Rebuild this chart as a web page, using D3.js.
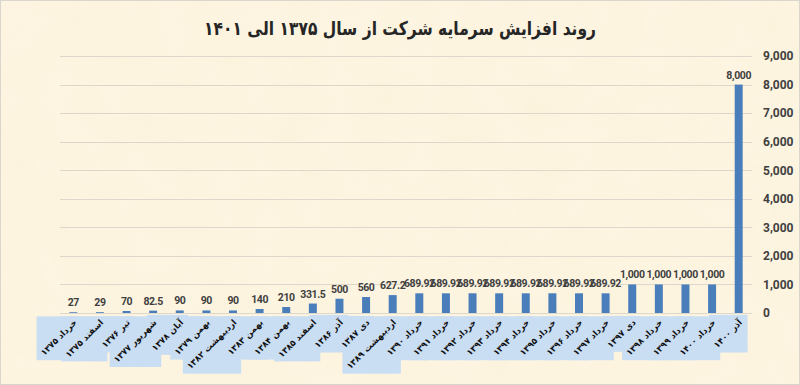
<!DOCTYPE html>
<html>
<head>
<meta charset="utf-8">
<script src="https://cdn.jsdelivr.net/npm/d3@7"></script>
<style>
  body { margin: 0; background: #fff; }
  svg { display: block; }
</style>
</head>
<body>
<div id="chart"></div>
<script>
var categories = ["خرداد ۱۳۷۵", "اسفند ۱۳۷۵", "تیر ۱۳۷۶", "شهریور ۱۳۷۷", "آبان ۱۳۷۸", "بهمن ۱۳۷۹",
    "اردیبهشت ۱۳۸۲", "بهمن ۱۳۸۳", "بهمن ۱۳۸۴", "اسفند ۱۳۸۵", "آذر ۱۳۸۶", "دی ۱۳۸۷",
    "اردیبهشت ۱۳۸۹", "خرداد ۱۳۹۰", "خرداد ۱۳۹۱", "خرداد ۱۳۹۲", "خرداد ۱۳۹۳", "خرداد ۱۳۹۴",
    "خرداد ۱۳۹۵", "خرداد ۱۳۹۶", "خرداد ۱۳۹۷", "دی ۱۳۹۷", "خرداد ۱۳۹۸", "خرداد ۱۳۹۹",
    "خرداد ۱۴۰۰", "آذر ۱۴۰۰"];
var capital = [27, 29, 70, 82.5, 90, 90, 90, 140, 210, 331.5, 500, 560, 627.2,
    689.92, 689.92, 689.92, 689.92, 689.92, 689.92, 689.92, 689.92,
    1000, 1000, 1000, 1000, 8000];
var yTicks = [0, 1000, 2000, 3000, 4000, 5000, 6000, 7000, 8000, 9000];
var title = "روند افزایش سرمایه شرکت از سال ۱۳۷۵ الی ۱۴۰۱";

var width = 800,
    height = 385;

var svg = d3.select("#chart").append("svg")
    .attr("width", width)
    .attr("height", height);

// parchment background
var defs = svg.append("defs");
var f = defs.append("filter").attr("id", "paper")
    .attr("x", 0).attr("y", 0).attr("width", "100%").attr("height", "100%");
f.append("feTurbulence").attr("type", "fractalNoise")
    .attr("baseFrequency", "0.025").attr("numOctaves", 3).attr("seed", 4);
f.append("feColorMatrix").attr("type", "matrix")
    .attr("values", "0 0 0 0 0.85  0 0 0 0 0.72  0 0 0 0 0.45  0 0 0 0.55 -0.18");

svg.append("rect")
    .attr("width", width).attr("height", height)
    .attr("fill", "#fdf5e1");
svg.append("rect")
    .attr("width", width).attr("height", height)
    .attr("filter", "url(#paper)")
    .attr("opacity", 0.3);
svg.append("rect")
    .attr("x", 0.5).attr("y", 0.5)
    .attr("width", width - 1).attr("height", height - 1)
    .attr("fill", "none")
    .attr("stroke", "#d9d6cf");

var x = d3.scaleBand()
    .domain(categories)
    .range([60, 752])
    .paddingInner(0.7)
    .paddingOuter(0.35);

var y = d3.scaleLinear()
    .domain([0, 9000])
    .range([313, 56]);

// gridlines
svg.append("g").attr("class", "grid")
    .selectAll("line")
    .data(yTicks)
    .enter().append("line")
    .attr("x1", 60).attr("x2", 752)
    .attr("y1", function (d) { return Math.round(y(d)) + 0.5; })
    .attr("y2", function (d) { return Math.round(y(d)) + 0.5; })
    .attr("stroke", "#ddd8cb")
    .attr("stroke-width", 1);

// right axis
var yAxis = d3.axisRight(y)
    .tickValues(yTicks)
    .tickSize(0)
    .tickPadding(0)
    .tickFormat(d3.format(","));

var ax = svg.append("g")
    .attr("class", "y axis")
    .attr("transform", "translate(763,0)")
    .call(yAxis);
ax.select(".domain").remove();
ax.selectAll("text")
    .attr("fill", "#404040")
    .style("font-family", "Roboto, 'Open Sans', sans-serif")
    .style("font-weight", "bold")
    .style("font-size", "12px");

// bars
svg.selectAll(".bar")
    .data(capital)
    .enter().append("rect")
    .attr("class", "bar")
    .attr("x", function (d, i) { return x(categories[i]); })
    .attr("width", x.bandwidth())
    .attr("y", function (d) { return y(d); })
    .attr("height", function (d) { return y(0) - y(d); })
    .attr("fill", "#4a7ebb");

// value labels
svg.selectAll(".val")
    .data(capital)
    .enter().append("text")
    .attr("class", "val")
    .attr("x", function (d, i) { return x(categories[i]) + x.bandwidth() / 2; })
    .attr("y", function (d) { return y(d) - 6; })
    .attr("text-anchor", "middle")
    .attr("fill", "#404040")
    .style("font-family", "Roboto, 'Open Sans', sans-serif")
    .style("font-weight", "bold")
    .style("font-size", "10.5px")
    .style("letter-spacing", "-0.4px")
    .text(function (d) { return d3.format(",")(d); });

// category labels with light blue boxes behind them
var boxG = svg.append("g").attr("class", "label-boxes");
var labG = svg.append("g").attr("class", "x labels");
var ang = -45 * Math.PI / 180;

categories.forEach(function (c) {
    var ax0 = x(c) + x.bandwidth() / 2 + 4,
        ay0 = 323;
    var t = labG.append("text")
        .attr("transform", "translate(" + ax0 + "," + ay0 + ") rotate(-45)")
        .attr("text-anchor", "end")
        .attr("fill", "#111")
        .style("font-family", "'DejaVu Sans', sans-serif")
        .style("font-weight", "bold")
        .style("font-size", "8.5px")
        .text(c);
    var b = t.node().getBBox();
    var pts = [[b.x, b.y], [b.x + b.width, b.y], [b.x, b.y + b.height], [b.x + b.width, b.y + b.height]]
        .map(function (p) {
            return [ax0 + p[0] * Math.cos(ang) - p[1] * Math.sin(ang),
                    ay0 + p[0] * Math.sin(ang) + p[1] * Math.cos(ang)];
        });
    var x0 = d3.min(pts, function (p) { return p[0]; }) - 2,
        x1 = d3.max(pts, function (p) { return p[0]; }) + 2,
        y0 = d3.min(pts, function (p) { return p[1]; }) - 1,
        y1 = d3.max(pts, function (p) { return p[1]; }) + 2;
    boxG.append("rect")
        .attr("x", x0).attr("y", y0)
        .attr("width", x1 - x0).attr("height", y1 - y0)
        .attr("fill", "#c9ddf3");
});

// title
svg.append("text")
    .attr("x", 400)
    .attr("y", 35)
    .attr("text-anchor", "middle")
    .attr("fill", "#262626")
    .attr("textLength", 392)
    .attr("lengthAdjust", "spacingAndGlyphs")
    .style("font-family", "'DejaVu Sans', sans-serif")
    .style("font-weight", "bold")
    .style("font-size", "19px")
    .text(title);
</script>
</body>
</html>
